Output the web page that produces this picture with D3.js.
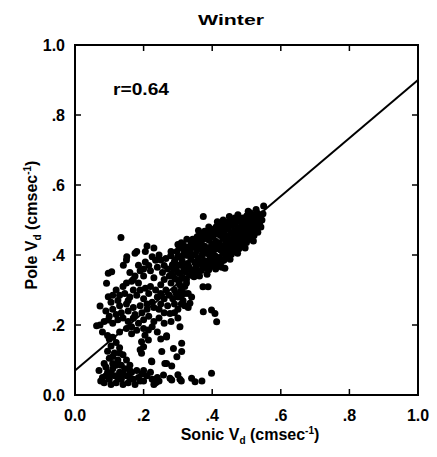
<!DOCTYPE html>
<html><head><meta charset="utf-8">
<script src="https://cdn.jsdelivr.net/npm/d3@7"></script>
<style>body{margin:0;background:#fff}text{font-family:"Liberation Sans",Arial,sans-serif}</style>
</head><body><svg id="c" width="437" height="457"></svg>
<script>
const title = "Winter";
const xTicks = [0, 0.2, 0.4, 0.6, 0.8, 1.0];
const yTicks = [0, 0.2, 0.4, 0.6, 0.8, 1.0];
const tickLabels = ["0.0", ".2", ".4", ".6", ".8", "1.0"];
const rText = "r=0.64";
const fitLine = [[0, 0.07], [1, 0.90]];

const denseCluster = [
[0.281,0.345],[0.284,0.372],[0.279,0.398],
[0.292,0.332],[0.295,0.358],[0.291,0.385],[0.297,0.41],
[0.303,0.322],[0.306,0.347],[0.302,0.371],[0.308,0.396],[0.304,0.42],
[0.314,0.336],[0.317,0.36],[0.312,0.384],[0.318,0.407],[0.315,0.43],
[0.325,0.33],[0.322,0.352],[0.328,0.376],[0.324,0.399],[0.327,0.423],
[0.336,0.342],[0.333,0.366],[0.338,0.388],[0.335,0.411],[0.339,0.434],
[0.347,0.338],[0.344,0.357],[0.349,0.379],[0.345,0.4],[0.348,0.422],[0.343,0.445],
[0.357,0.348],[0.354,0.369],[0.359,0.39],[0.355,0.412],[0.358,0.433],[0.356,0.452],
[0.368,0.356],[0.365,0.378],[0.37,0.399],[0.366,0.42],[0.369,0.441],[0.364,0.462],
[0.379,0.362],[0.376,0.384],[0.381,0.405],[0.377,0.426],[0.38,0.447],[0.378,0.468],
[0.39,0.358],[0.387,0.38],[0.392,0.4],[0.388,0.421],[0.391,0.442],[0.389,0.463],
[0.401,0.368],[0.398,0.389],[0.403,0.41],[0.399,0.431],[0.402,0.452],[0.4,0.473],
[0.412,0.376],[0.409,0.397],[0.414,0.418],[0.41,0.439],[0.413,0.46],[0.411,0.48],
[0.423,0.372],[0.42,0.393],[0.425,0.414],[0.421,0.435],[0.424,0.456],[0.422,0.476],
[0.434,0.385],[0.431,0.405],[0.436,0.426],[0.432,0.447],[0.435,0.468],[0.433,0.488],
[0.445,0.392],[0.442,0.412],[0.447,0.433],[0.443,0.454],[0.446,0.475],[0.444,0.494],
[0.456,0.402],[0.453,0.422],[0.458,0.443],[0.454,0.464],[0.457,0.484],[0.455,0.502],
[0.467,0.41],[0.464,0.43],[0.469,0.45],[0.465,0.47],[0.468,0.49],[0.466,0.506],
[0.478,0.418],[0.475,0.438],[0.48,0.458],[0.476,0.478],[0.479,0.498],
[0.489,0.428],[0.486,0.448],[0.491,0.468],[0.487,0.488],[0.49,0.506],
[0.5,0.436],[0.497,0.456],[0.502,0.476],[0.498,0.496],[0.501,0.512],
[0.511,0.446],[0.508,0.466],[0.513,0.486],[0.509,0.505],[0.512,0.52],
[0.522,0.456],[0.519,0.475],[0.524,0.494],[0.52,0.512],
[0.533,0.465],[0.53,0.484],[0.535,0.502],[0.531,0.52],
[0.542,0.48],[0.545,0.5],[0.548,0.518],[0.55,0.54],
[0.287,0.36],[0.299,0.395],[0.31,0.333],[0.311,0.372],[0.32,0.418],[0.33,0.36],[0.331,0.399],
[0.341,0.352],[0.342,0.423],[0.352,0.36],[0.351,0.401],[0.353,0.44],[0.361,0.379],[0.362,0.424],
[0.372,0.367],[0.373,0.41],[0.372,0.452],[0.383,0.372],[0.384,0.415],[0.385,0.457],[0.395,0.37],
[0.396,0.41],[0.394,0.452],[0.406,0.38],[0.405,0.42],[0.407,0.462],[0.417,0.386],[0.418,0.428],
[0.416,0.468],[0.428,0.383],[0.427,0.424],[0.429,0.466],[0.439,0.396],[0.44,0.437],[0.438,0.478],
[0.45,0.403],[0.451,0.444],[0.449,0.485],[0.461,0.413],[0.462,0.455],[0.46,0.494],[0.472,0.424],
[0.473,0.464],[0.471,0.5],[0.483,0.433],[0.484,0.474],[0.482,0.505],[0.494,0.442],[0.495,0.482],
[0.505,0.452],[0.506,0.492],[0.516,0.462],[0.517,0.5],[0.527,0.47],[0.528,0.508],[0.538,0.49],
[0.54,0.512],[0.363,0.34],[0.385,0.345],[0.41,0.36],[0.428,0.365],[0.452,0.388],[0.474,0.405],
[0.496,0.42],[0.52,0.44],[0.36,0.47],[0.39,0.48],[0.42,0.49],[0.45,0.51],[0.475,0.515],[0.505,0.525],
[0.528,0.53],[0.415,0.495],[0.3,0.43],[0.326,0.445]
];

const leftCloud = [
[0.134,0.45],[0.21,0.426],[0.23,0.42],[0.18,0.41],[0.15,0.386],[0.25,0.386],[0.31,0.435],[0.28,0.41],
[0.151,0.395],[0.175,0.405],[0.141,0.371],[0.185,0.371],[0.205,0.38],[0.225,0.395],[0.245,0.40],[0.265,0.39],
[0.107,0.352],[0.092,0.319],[0.097,0.348],[0.16,0.35],[0.175,0.34],[0.19,0.355],[0.17,0.33],[0.2,0.34],
[0.22,0.355],[0.24,0.365],[0.255,0.35],[0.27,0.36],[0.23,0.335],[0.26,0.33],[0.285,0.34],
[0.14,0.31],[0.145,0.29],[0.16,0.28],[0.18,0.285],[0.19,0.30],[0.185,0.32],[0.165,0.325],[0.15,0.32],
[0.12,0.30],[0.11,0.285],[0.125,0.27],[0.097,0.281],[0.13,0.255],[0.15,0.26],[0.2,0.275],[0.215,0.29],
[0.22,0.31],[0.235,0.30],[0.25,0.315],[0.24,0.28],[0.265,0.30],[0.28,0.32],[0.275,0.285],[0.29,0.30],
[0.3,0.28],[0.31,0.30],[0.32,0.31],[0.315,0.27],[0.33,0.29],
[0.073,0.254],[0.09,0.24],[0.11,0.245],[0.135,0.235],[0.155,0.24],[0.17,0.25],[0.19,0.255],[0.21,0.26],
[0.23,0.25],[0.25,0.26],[0.27,0.255],[0.29,0.26],[0.30,0.245],[0.26,0.235],[0.277,0.233],
[0.063,0.198],[0.073,0.2],[0.085,0.21],[0.097,0.214],[0.11,0.205],[0.125,0.215],[0.14,0.22],[0.155,0.21],
[0.17,0.22],[0.185,0.205],[0.2,0.215],[0.215,0.225],[0.23,0.21],[0.245,0.22],[0.26,0.205],[0.28,0.21],
[0.30,0.22],[0.306,0.195],
[0.08,0.18],[0.095,0.17],[0.11,0.165],[0.13,0.18],[0.15,0.19],[0.165,0.175],[0.18,0.185],[0.2,0.19],
[0.214,0.186],[0.204,0.171],[0.194,0.152],[0.19,0.129],[0.267,0.169],[0.24,0.18],[0.25,0.16],
[0.335,0.262],[0.34,0.28],[0.33,0.25],[0.32,0.255],
[0.2,0.36],[0.215,0.37],[0.26,0.37],[0.29,0.38],[0.275,0.34],[0.3,0.35],[0.25,0.29],[0.26,0.275],
[0.285,0.275],[0.295,0.29],[0.31,0.285],[0.32,0.29],[0.325,0.32],[0.305,0.315],[0.21,0.245],[0.225,0.265],
[0.245,0.245],[0.195,0.235],[0.175,0.23],[0.12,0.23],[0.1,0.225],[0.165,0.195],[0.225,0.195],[0.29,0.235],
[0.31,0.26],[0.205,0.305],[0.17,0.3],[0.155,0.27],[0.13,0.285],[0.105,0.265],[0.235,0.385],[0.205,0.41]
];

const lowCluster = [
[0.1,0.16],[0.12,0.15],[0.105,0.14],[0.13,0.135],[0.095,0.125],[0.115,0.12],[0.14,0.115],[0.1,0.105],
[0.125,0.10],[0.15,0.10],[0.085,0.09],[0.11,0.09],[0.135,0.085],[0.16,0.085],
[0.07,0.07],[0.08,0.05],[0.085,0.035],[0.095,0.065],[0.1,0.045],[0.11,0.075],[0.115,0.055],[0.12,0.035],
[0.13,0.065],[0.135,0.045],[0.145,0.075],[0.15,0.055],[0.155,0.035],[0.165,0.065],[0.17,0.045],[0.18,0.07],
[0.185,0.05],[0.195,0.06],[0.2,0.04],[0.21,0.055],[0.22,0.065],[0.225,0.045],[0.235,0.035],[0.24,0.05],
[0.245,0.04],[0.23,0.03],[0.09,0.08],[0.105,0.03],[0.14,0.03],[0.175,0.03],[0.16,0.05],[0.125,0.05],[0.075,0.04],
[0.09,0.055],[0.105,0.06],[0.12,0.085],[0.14,0.06],[0.16,0.07],[0.19,0.04],[0.2,0.07],[0.11,0.11],[0.13,0.12]
];

const scattered = [
[0.374,0.51],[0.432,0.50],[0.437,0.362],[0.373,0.309],[0.388,0.309],[0.374,0.238],[0.398,0.243],[0.408,0.233],
[0.413,0.209],[0.262,0.09],[0.282,0.083],[0.223,0.097],[0.277,0.048],[0.30,0.058],[0.306,0.045],[0.31,0.04],
[0.34,0.048],[0.35,0.038],[0.37,0.04],[0.398,0.062],[0.287,0.133],[0.311,0.124],[0.311,0.148],[0.297,0.109],
[0.253,0.124],[0.224,0.095],[0.267,0.09],[0.238,0.038],[0.258,0.057],[0.282,0.043],[0.214,0.157],[0.194,0.119],
[0.2,0.138],[0.267,0.166]
];

const svg = d3.select("#c");
const x = d3.scaleLinear().domain([0, 1]).range([75, 418]);
const y = d3.scaleLinear().domain([0, 1]).range([395, 45]);

svg.append("rect").attr("x", x(0)).attr("y", y(1)).attr("width", x(1) - x(0)).attr("height", y(0) - y(1))
  .attr("fill", "none").attr("stroke", "#000").attr("stroke-width", 2);

const tk = 6;
const g = svg.append("g").attr("stroke", "#000").attr("stroke-width", 1.5);
xTicks.slice(1, -1).forEach(v => {
  g.append("line").attr("x1", x(v)).attr("x2", x(v)).attr("y1", y(0)).attr("y2", y(0) - tk);
  g.append("line").attr("x1", x(v)).attr("x2", x(v)).attr("y1", y(1)).attr("y2", y(1) + tk);
});
yTicks.slice(1, -1).forEach(v => {
  g.append("line").attr("y1", y(v)).attr("y2", y(v)).attr("x1", x(0)).attr("x2", x(0) + tk);
  g.append("line").attr("y1", y(v)).attr("y2", y(v)).attr("x1", x(1)).attr("x2", x(1) - tk);
});

xTicks.forEach((v, i) => {
  svg.append("text").attr("x", x(v)).attr("y", 421).attr("text-anchor", "middle")
    .attr("font-size", 16).attr("font-weight", "bold").text(tickLabels[i]);
});
yTicks.forEach((v, i) => {
  svg.append("text").attr("x", 65).attr("y", y(v)).attr("dy", "0.36em").attr("text-anchor", "end")
    .attr("font-size", 16).attr("font-weight", "bold").text(tickLabels[i]);
});

svg.append("text").attr("x", 198).attr("y", 25)
  .attr("font-size", 15).attr("font-weight", "bold")
  .attr("textLength", 66).attr("lengthAdjust", "spacingAndGlyphs").text(title);

const xt = svg.append("text").attr("x", 250).attr("y", 440).attr("text-anchor", "middle")
  .attr("font-size", 16).attr("font-weight", "bold");
xt.append("tspan").text("Sonic V");
xt.append("tspan").attr("font-size", 10).attr("dy", 4).text("d");
xt.append("tspan").attr("dy", -4).text(" (cmsec");
xt.append("tspan").attr("font-size", 10).attr("dy", -6).text("-1");
xt.append("tspan").attr("dy", 6).text(")");

const yt = svg.append("text").attr("transform", "translate(37,225) rotate(-90)").attr("text-anchor", "middle")
  .attr("font-size", 16).attr("font-weight", "bold");
yt.append("tspan").text("Pole V");
yt.append("tspan").attr("font-size", 10).attr("dy", 4).text("d");
yt.append("tspan").attr("dy", -4).text(" (cmsec");
yt.append("tspan").attr("font-size", 10).attr("dy", -6).text("-1");
yt.append("tspan").attr("dy", 6).text(")");

svg.append("text").attr("x", 113).attr("y", 95).attr("font-size", 16).attr("font-weight", "bold")
  .attr("textLength", 56).attr("lengthAdjust", "spacingAndGlyphs").text(rText);

svg.append("path").datum(fitLine)
  .attr("d", d3.line().x(d => x(d[0])).y(d => y(d[1])))
  .attr("stroke", "#000").attr("stroke-width", 2).attr("fill", "none");

const allPts = [].concat(denseCluster, leftCloud, lowCluster, scattered);
svg.append("g").selectAll("circle").data(allPts).join("circle")
  .attr("cx", d => x(d[0])).attr("cy", d => y(d[1])).attr("r", 3.5).attr("fill", "#000");
</script></body></html>
